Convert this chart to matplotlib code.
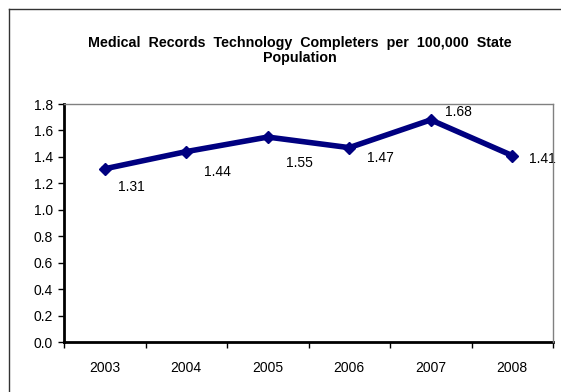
import matplotlib
matplotlib.use("Agg")
import matplotlib.pyplot as plt
from matplotlib.lines import Line2D

years = ["2003", "2004", "2005", "2006", "2007", "2008"]
values = [1.31, 1.44, 1.55, 1.47, 1.68, 1.41]
labels = ["1.31", "1.44", "1.55", "1.47", "1.68", "1.41"]
# label offsets in pixels (dx right, dy up)
label_offsets = [(27, -18), (31, -20), (32, -26), (31, -10), (28, 8), (30, -3)]

plt.rcParams['font.family'] = ['Liberation Sans', 'DejaVu Sans']

W, H = 561, 392
fig = plt.figure(figsize=(W / 100, H / 100), dpi=100)
fig.patch.set_facecolor("white")

ax = fig.add_axes([64 / W, 1 - 342 / H, (553 - 64) / W, (342 - 104) / H])

x = list(range(len(years)))
ax.plot(x, values, color="#000080", linewidth=4, marker="D", markersize=6.5,
        markeredgecolor="#000080", markerfacecolor="#000080", zorder=3,
        solid_joinstyle="miter")

for xi, v, lab, (dx, dy) in zip(x, values, labels, label_offsets):
    ax.annotate(lab, (xi, v), xytext=(dx, dy), textcoords="offset pixels",
                ha="center", va="center", fontsize=10, color="black", zorder=1)

ax.set_xlim(-0.5, len(years) - 0.5)
ax.set_ylim(0, 1.8)
ax.set_yticks([i * 0.2 for i in range(10)])
ax.set_yticklabels([f"{i * 0.2:.1f}" for i in range(10)])
ax.set_xticks(x)
ax.set_xticklabels(years)
ax.set_xticks([i - 0.5 for i in range(len(years) + 1)], minor=True)
ax.tick_params(axis="x", which="major", length=0, pad=14, labelsize=10)
ax.tick_params(axis="x", which="minor", length=4, width=1, direction="out", color="black")
ax.tick_params(axis="y", length=4, width=1, direction="out", labelsize=10, pad=4)

for s in ["left", "bottom"]:
    ax.spines[s].set_color("black")
    ax.spines[s].set_linewidth(2)
for s in ["top", "right"]:
    ax.spines[s].set_color("#808080")
    ax.spines[s].set_linewidth(1)
    ax.spines[s].set_zorder(5)

fig.text(300 / W, 1 - 43 / H, "Medical  Records  Technology  Completers  per  100,000  State",
         ha="center", va="center", fontsize=10.3, fontweight="bold")
fig.text(300 / W, 1 - 58 / H, "Population",
         ha="center", va="center", fontsize=10.3, fontweight="bold")

# figure border (only top and left visible)
fig.add_artist(Line2D([8.5 / W, 8.5 / W], [0, 1 - 8.5 / H], transform=fig.transFigure,
                      color="#333333", linewidth=1))
fig.add_artist(Line2D([8.5 / W, 1], [1 - 8.5 / H, 1 - 8.5 / H], transform=fig.transFigure,
                      color="#333333", linewidth=1))

fig.savefig("out.png", dpi=100)
